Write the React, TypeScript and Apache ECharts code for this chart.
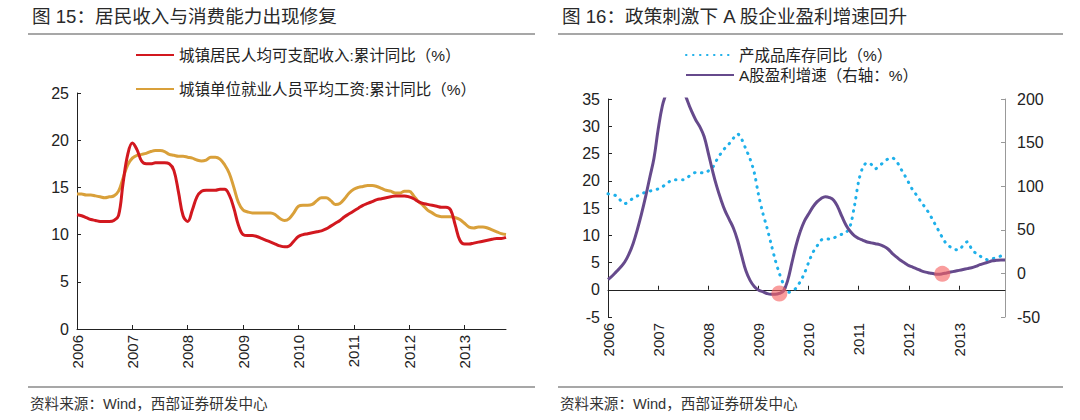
import React, { useEffect, useRef } from "react";
import * as echarts from "echarts";

// ---------- data ----------
const makeMonths = (startYear: number, count: number) => {
  const out: string[] = [];
  for (let i = 0; i < count; i++) {
    const y = startYear + Math.floor(i / 12);
    const m = (i % 12) + 1;
    out.push(`${y}-${m < 10 ? "0" + m : m}`);
  }
  return out;
};
const leftMonths = makeMonths(2006, 94); // 2006-01 .. 2013-10
const rightMonths = makeMonths(2006, 96); // 2006-01 .. 2013-12

const leftTitle = "图 15：居民收入与消费能力出现修复";
const rightTitle = "图 16：政策刺激下 A 股企业盈利增速回升";
const sourceText = "资料来源：Wind，西部证券研发中心";

const incomeName = "城镇居民人均可支配收入:累计同比（%）";
const wageName = "城镇单位就业人员平均工资:累计同比（%）";
const inventoryName = "产成品库存同比（%）";
const profitName = "A股盈利增速（右轴：%）";

const incomeYoY = [
  12.1, 12.0, 11.8, 11.6, 11.5, 11.4, 11.4, 11.4, 11.5, 12.0, 15.5, 18.5,
  19.7, 19.0, 17.8, 17.5, 17.5, 17.6, 17.6, 17.6, 17.5, 16.8, 14.5, 12.0,
  11.4, 12.6, 14.0, 14.6, 14.7, 14.7, 14.7, 14.8, 14.8, 14.2, 12.8, 11.0,
  10.0, 9.9, 9.9, 9.8, 9.6, 9.4, 9.2, 9.0, 8.8, 8.7, 8.8, 9.3,
  9.8, 10.0, 10.1, 10.2, 10.3, 10.4, 10.6, 10.9, 11.2, 11.5, 11.9, 12.2,
  12.5, 12.8, 13.1, 13.3, 13.5, 13.7, 13.8, 13.9, 14.0, 14.1, 14.1, 14.1,
  14.0, 13.8, 13.5, 13.3, 13.2, 13.1, 13.0, 12.9, 12.9, 12.6, 11.0, 9.4,
  9.0, 9.0, 9.1, 9.2, 9.3, 9.4, 9.5, 9.6, 9.6, 9.7,
];

const wageYoY = [
  14.3, 14.3, 14.2, 14.2, 14.1, 14.0, 13.9, 14.0, 14.1, 14.6, 16.0, 17.4,
  18.1, 18.4, 18.5, 18.6, 18.8, 18.9, 18.9, 18.8, 18.5, 18.4, 18.3, 18.3,
  18.2, 18.1, 17.9, 17.8, 17.9, 18.2, 18.2, 18.0, 17.4, 16.5, 15.0, 13.4,
  12.6, 12.4, 12.3, 12.3, 12.3, 12.3, 12.3, 12.1, 11.7, 11.5, 11.7, 12.3,
  13.0, 13.1, 13.1, 13.2, 13.6, 13.9, 13.9, 13.6, 13.2, 13.3, 13.8, 14.4,
  14.8, 15.0, 15.1, 15.2, 15.2, 15.1, 14.9, 14.7, 14.6, 14.4, 14.4, 14.6,
  14.6, 14.1, 13.5, 13.1, 12.6, 12.3, 12.0, 11.9, 11.9, 11.9, 11.8, 11.6,
  11.2, 10.8, 10.7, 10.8, 10.8, 10.7, 10.5, 10.3, 10.1, 10.0,
];

const inventoryYoY = [
  17.6, 17.5, 17.2, 16.4, 15.8, 16.2, 16.8, 17.2, 17.6, 17.9, 18.1, 18.3,
  18.5, 18.9, 19.4, 20.0, 20.2, 20.2, 20.2, 20.6, 21.2, 21.5, 21.5, 21.4,
  21.8, 22.4, 23.8, 25.0, 26.0, 26.8, 27.8, 28.6, 27.6, 25.8, 24.0, 21.5,
  17.5, 14.2, 11.5, 8.5, 5.5, 3.0, 1.0, -0.5, -0.3, 0.3, 1.5, 3.0,
  5.0, 6.8, 8.0, 9.1, 9.4, 9.3, 9.5, 9.9, 10.2, 10.5, 11.8, 15.5,
  20.0, 22.5, 23.3, 23.0, 22.2, 22.8, 23.4, 24.0, 24.2, 23.6, 22.3, 21.0,
  19.6, 18.2, 17.2, 16.0, 15.0, 13.8, 12.4, 11.0, 9.6, 8.4, 7.8, 7.4,
  7.3, 8.2, 8.8, 7.5, 6.7, 6.2, 5.7, 5.5, 5.7, 5.9, 6.2, 6.7,
];

const profitGrowth = [
  -7, -3, 2, 7, 13, 22, 34, 50, 68, 88, 110, 132,
  165, 192, 208, 225, 235, 232, 212, 198, 186, 176, 168, 157,
  138, 118, 100, 85, 72, 62, 52, 38, 20, 3, -8, -15,
  -19, -21, -23, -24, -24, -23, -20, -8, 12, 32, 48, 60,
  68, 76, 82, 86, 88, 87, 84, 76, 65, 55, 48, 43,
  40, 38, 36, 35, 34, 33, 31, 28, 23, 19, 15, 12,
  9, 7, 5, 3, 1.5, 0.5, -0.5, -1, -0.5, 0.5, 1.5, 2.5,
  3.5, 4.5, 5.5, 6.5, 8, 10, 11.5, 13, 14.5, 15, 15.3, 15.3,
];

// highlighted turning points: [month index, profit growth]
const turningPoints = [
  [41, -23],
  [80, -0.5],
];

// ---------- styling ----------
const FONT = "'Liberation Sans', 'Noto Sans CJK SC', sans-serif";
const TEXT = "#222";
const RULE = "#8a8a8a";
const RED = "#d2181f";
const GOLD = "#d9a03a";
const PURPLE = "#664a8c";
const CYAN = "#1eb0ea";

const yearTick = (i: number) => i % 12 === 0;

export default function App() {
  const ref = useRef<HTMLDivElement>(null);

  useEffect(() => {
    document.body.style.margin = "0";
    if (!ref.current) return;
    const chart = echarts.init(ref.current, undefined, { renderer: "svg" });

    const ruleLine = (x1: number, x2: number, y: number) => ({
      type: "line",
      shape: { x1, y1: y, x2, y2: y },
      style: { stroke: RULE, lineWidth: 1.5 },
      silent: true,
    });
    const label = (x: number, y: number, text: string, size: number, color = "#2a2a2a") => ({
      type: "text",
      x,
      y,
      style: {
        text,
        fill: color,
        font: `${size}px ${FONT}`,
        textVerticalAlign: "middle",
        verticalAlign: "middle",
      },
      silent: true,
    });

    const legendText = { fontSize: 15.5, lineHeight: 16, color: TEXT, fontFamily: FONT };

    const option: any = {
      animation: false,
      backgroundColor: "#ffffff",
      textStyle: { fontFamily: FONT },
      graphic: [
        label(32, 16, leftTitle, 18.6),
        label(562, 16, rightTitle, 18.6),
        ruleLine(28, 535, 34),
        ruleLine(558, 1063, 34),
        ruleLine(28, 535, 387),
        ruleLine(558, 1063, 387),
        label(30, 404, sourceText, 14.6, "#333"),
        label(560, 404, sourceText, 14.6, "#333"),
      ],
      legend: [
        {
          orient: "vertical",
          left: 135,
          top: 47,
          padding: 0,
          itemGap: 18,
          itemWidth: 38,
          itemHeight: 16,
          itemStyle: { opacity: 0 },
          data: [incomeName, wageName],
          textStyle: legendText,
        },
        {
          orient: "vertical",
          left: 685,
          top: 47,
          padding: 0,
          itemGap: 4,
          itemWidth: 48,
          itemHeight: 16,
          itemStyle: { opacity: 0 },
          data: [inventoryName, profitName],
          textStyle: legendText,
        },
      ],
      grid: [
        { left: 77, top: 93, width: 429, height: 236, containLabel: false },
        { left: 608, top: 99, width: 397, height: 218, containLabel: false },
      ],
      xAxis: [
        {
          gridIndex: 0,
          type: "category",
          data: leftMonths,
          boundaryGap: false,
          position: "bottom",
          axisLine: { lineStyle: { color: "#222", width: 1 } },
          axisTick: { inside: true, length: 4, interval: yearTick, lineStyle: { color: "#222" } },
          axisLabel: {
            interval: yearTick,
            rotate: 90,
            margin: 6,
            fontSize: 15,
            color: TEXT,
            fontFamily: FONT,
            formatter: (v: string) => v.slice(0, 4),
          },
          splitLine: { show: false },
        },
        {
          gridIndex: 1,
          type: "category",
          data: rightMonths,
          boundaryGap: false,
          position: "bottom",
          axisLine: { show: false, onZero: false },
          axisTick: { show: false },
          axisLabel: {
            interval: yearTick,
            rotate: 90,
            margin: 6,
            fontSize: 15,
            color: TEXT,
            fontFamily: FONT,
            formatter: (v: string) => v.slice(0, 4),
          },
          splitLine: { show: false },
        },
        {
          gridIndex: 1,
          type: "category",
          data: rightMonths,
          boundaryGap: false,
          position: "bottom",
          axisLine: { show: true, onZero: true, onZeroAxisIndex: 1, lineStyle: { color: "#222", width: 1 } },
          axisTick: { show: true, inside: true, length: 4, interval: yearTick, lineStyle: { color: "#222" } },
          axisLabel: { show: false },
          splitLine: { show: false },
        },
      ],
      yAxis: [
        {
          gridIndex: 0,
          type: "value",
          min: 0,
          max: 25,
          interval: 5,
          axisLine: { show: true, lineStyle: { color: "#222", width: 1 } },
          axisTick: { show: true, inside: true, length: 4, lineStyle: { color: "#222" } },
          axisLabel: { fontSize: 16, color: TEXT, fontFamily: FONT, margin: 8 },
          splitLine: { show: false },
        },
        {
          gridIndex: 1,
          type: "value",
          position: "left",
          min: -5,
          max: 35,
          interval: 5,
          axisLine: { show: true, onZero: false, lineStyle: { color: "#222", width: 1 } },
          axisTick: { show: true, inside: true, length: 4, lineStyle: { color: "#222" } },
          axisLabel: { fontSize: 16, color: TEXT, fontFamily: FONT, margin: 8 },
          splitLine: { show: false },
        },
        {
          gridIndex: 1,
          type: "value",
          position: "right",
          min: -50,
          max: 200,
          interval: 50,
          axisLine: { show: true, onZero: false, lineStyle: { color: "#999", width: 1 } },
          axisTick: { show: true, inside: true, length: 4, lineStyle: { color: "#999" } },
          axisLabel: { fontSize: 16, color: TEXT, fontFamily: FONT, margin: 12 },
          splitLine: { show: false },
        },
      ],
      series: [
        {
          name: incomeName,
          type: "line",
          xAxisIndex: 0,
          yAxisIndex: 0,
          data: incomeYoY,
          smooth: 0.4,
          showSymbol: false,
          symbol: "none",
          lineStyle: { color: RED, width: 3 },
          itemStyle: { color: RED },
          z: 3,
        },
        {
          name: wageName,
          type: "line",
          xAxisIndex: 0,
          yAxisIndex: 0,
          data: wageYoY,
          smooth: 0.4,
          showSymbol: false,
          symbol: "none",
          lineStyle: { color: GOLD, width: 3 },
          itemStyle: { color: GOLD },
          z: 2,
        },
        {
          name: inventoryName,
          type: "line",
          xAxisIndex: 1,
          yAxisIndex: 1,
          data: inventoryYoY,
          smooth: 0.3,
          showSymbol: false,
          symbol: "none",
          lineStyle: { color: CYAN, width: 3, type: [0.5, 6.5], cap: "round" },
          itemStyle: { color: CYAN },
          z: 2,
        },
        {
          name: profitName,
          type: "line",
          xAxisIndex: 1,
          yAxisIndex: 2,
          data: profitGrowth,
          smooth: 0.4,
          showSymbol: false,
          symbol: "none",
          clip: true,
          lineStyle: { color: PURPLE, width: 3 },
          itemStyle: { color: PURPLE },
          z: 3,
        },
        {
          name: "turning",
          type: "scatter",
          xAxisIndex: 1,
          yAxisIndex: 2,
          data: turningPoints,
          symbolSize: 16,
          itemStyle: { color: "rgba(245, 98, 98, 0.78)" },
          z: 5,
          silent: true,
        },
      ],
    };

    chart.setOption(option);
    return () => chart.dispose();
  }, []);

  return <div ref={ref} style={{ width: 1080, height: 420 }} />;
}
